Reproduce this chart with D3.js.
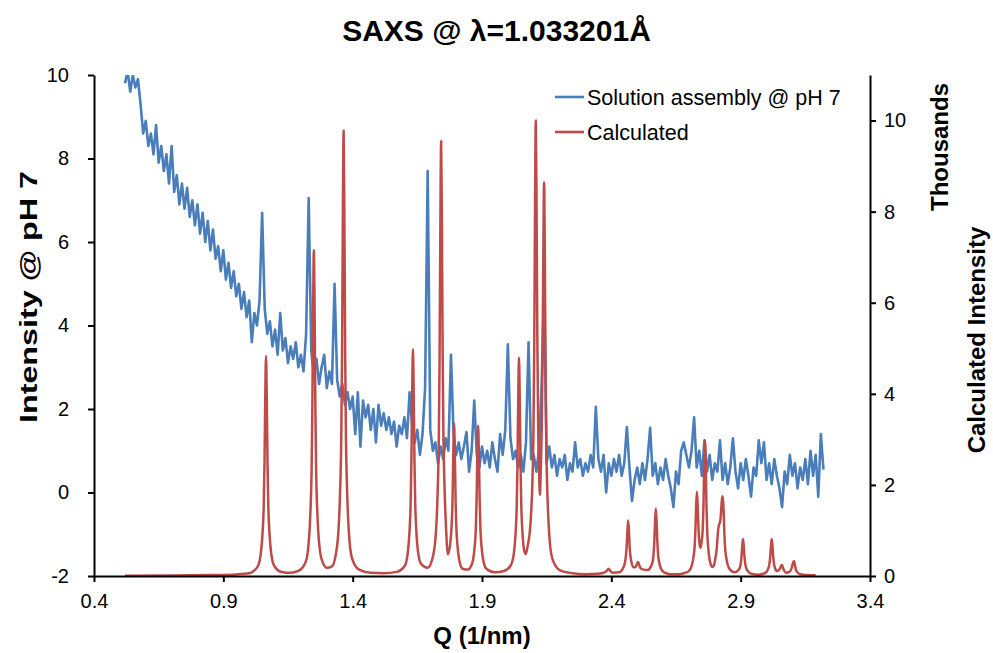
<!DOCTYPE html>
<html>
<head>
<meta charset="utf-8">
<script src="https://cdn.jsdelivr.net/npm/d3@7"></script>
<style>
  body { margin: 0; background: #fff; }
  svg { font-family: "Liberation Sans", Arial, sans-serif; }
</style>
</head>
<body>
<div id="chart"></div>
<script>
// Q axis ticks and y ticks
const qTicks = [0.4, 0.9, 1.4, 1.9, 2.4, 2.9, 3.4];
const leftTicks = [-2, 0, 2, 4, 6, 8, 10];
const rightTicks = [0, 2000, 4000, 6000, 8000, 10000];

// measured SAXS, sampled every 0.01 1/nm starting at q = 0.52
const measuredStart = 0.52;
const measuredStep = 0.01;
const measuredValues = [
  9.8, 10.1, 9.6, 10.0, 9.7, 9.9, 9.3, 8.6, 8.9, 8.3,
  8.6, 8.1, 8.8, 7.9, 8.3, 7.7, 8.1, 7.4, 8.3, 7.2,
  7.6, 6.9, 7.4, 6.8, 7.3, 6.6, 7.0, 6.4, 6.9, 6.2,
  6.7, 6.0, 6.5, 5.8, 6.3, 5.6, 5.9, 5.3, 5.8, 5.1,
  5.5, 4.9, 5.3, 4.7, 5.0, 4.4, 4.8, 4.2, 4.6, 3.6,
  4.3, 4.0, 4.6, 6.7, 4.4, 3.8, 4.1, 3.5, 3.9, 3.3,
  4.3, 3.4, 3.7, 3.1, 3.5, 3.2, 3.6, 3.0, 3.3, 2.9,
  3.8, 7.05, 3.4, 2.8, 3.2, 2.6, 3.0, 3.3, 2.5, 2.9,
  2.6, 5.0, 2.7, 2.3, 2.6, 2.1, 2.4, 2.0, 2.3, 1.4,
  2.4, 1.1, 2.2, 1.8, 2.1, 1.5, 2.0, 1.2, 2.1, 1.6,
  1.9, 1.5, 1.8, 1.4, 1.7, 1.1, 1.6, 1.4, 1.8, 1.3,
  2.4, 1.6, 1.2, 1.5, 0.9, 1.4, 2.5, 7.7, 1.5, 1.0,
  1.2, 0.7, 1.1, 0.8, 1.3, 1.0, 3.3, 1.4, 0.9, 1.2,
  0.8, 1.1, 1.45, 0.5, 1.0, 2.2, 0.9, 0.6, 1.1, 0.7,
  1.0, 0.6, 1.2, 0.8, 0.5, 1.4, 0.9, 1.5, 3.55, 1.3,
  0.8, 1.0, 0.6, 0.9, 0.5, 1.2, 3.6, 0.8, 0.9, 0.5,
  1.0, 2.5, 4.8, 0.7, 1.1, 0.6, 0.9, 0.4, 0.8, 0.6,
  0.9, 0.3, 0.7, 0.5, 1.2, 0.6, 0.8, 0.4, 0.7, 0.5,
  0.9, 0.6, 2.05, 0.8, 0.5, 0.9, 0.0, 0.7, 0.4, 0.8,
  0.5, 0.9, 0.4, 0.7, 1.57, 0.6, -0.2, 0.3, 0.6, 0.2,
  0.7, 0.3, 0.8, 1.55, 0.4, 0.7, 0.2, 0.6, 0.3, 0.8,
  0.4, 0.1, -0.35, 0.5, 0.2, 1.0, 1.2, 0.9, 0.6, 1.0,
  1.8, 0.6, 1.0, 0.4, 1.25, 0.5, 0.9, 0.3, 0.7, 0.5,
  1.25, 0.3, 0.7, 0.2, 0.6, 1.3, 0.5, 0.1, 0.7, 0.3,
  0.8, 0.4, -0.1, 0.6, 0.4, 1.25, 0.7, 1.2, 0.3, 0.7,
  0.2, 0.8, 0.4, 0.1, -0.35, 0.5, 0.2, 0.9, 0.4, 0.7,
  0.1, 0.6, 0.3, 0.8, 0.2, 1.0, 0.4, 0.9, -0.1, 1.4,
  0.55
];

// calculated pattern, [q, intensity]
const calcPoints = [
  [0.52, 5], [0.70, 10], [0.85, 20], [0.95, 35], [1.00, 60], [1.033, 210],
  [1.045, 500], [1.052, 980], [1.056, 1510], [1.059, 2420], [1.062, 3870], [1.065, 4830],
  [1.068, 3870], [1.071, 2420], [1.074, 1510], [1.078, 980], [1.085, 500], [1.097, 220],
  [1.125, 90], [1.16, 70], [1.19, 110], [1.218, 300], [1.23, 730], [1.237, 1450],
  [1.241, 2240], [1.244, 3600], [1.247, 5730], [1.25, 7150], [1.253, 5730], [1.256, 3600],
  [1.259, 2240], [1.263, 1450], [1.27, 740], [1.282, 330], [1.30, 180], [1.32, 210],
  [1.333, 420], [1.345, 990], [1.352, 1970], [1.356, 3040], [1.359, 4900], [1.362, 7830],
  [1.365, 9780], [1.368, 7830], [1.371, 4900], [1.374, 3040], [1.378, 1970], [1.385, 990],
  [1.397, 400], [1.425, 140], [1.47, 70], [1.52, 60], [1.57, 90], [1.601, 220],
  [1.613, 510], [1.62, 1000], [1.624, 1560], [1.627, 2500], [1.63, 3990], [1.633, 4980],
  [1.636, 3990], [1.639, 2500], [1.642, 1560], [1.646, 1010], [1.653, 520], [1.665, 260],
  [1.69, 180], [1.71, 420], [1.722, 970], [1.729, 1930], [1.733, 2980], [1.736, 4800],
  [1.739, 7660], [1.742, 9550], [1.745, 7680], [1.748, 4830], [1.751, 3020], [1.755, 1990],
  [1.761, 1050], [1.768, 480], [1.777, 700], [1.782, 1050], [1.786, 1650], [1.789, 2680],
  [1.792, 3350], [1.795, 2680], [1.798, 1650], [1.801, 1050], [1.805, 680], [1.812, 350],
  [1.825, 160], [1.845, 140], [1.853, 170], [1.865, 340], [1.872, 660], [1.876, 1020],
  [1.879, 1650], [1.882, 2640], [1.885, 3300], [1.888, 2640], [1.891, 1650], [1.894, 1020],
  [1.898, 660], [1.905, 340], [1.917, 160], [1.95, 80], [1.985, 110], [2.011, 230],
  [2.023, 490], [2.03, 960], [2.034, 1490], [2.037, 2400], [2.04, 3840], [2.043, 4800],
  [2.046, 3850], [2.049, 2420], [2.052, 1520], [2.056, 1000], [2.062, 600], [2.069, 480],
  [2.076, 640], [2.088, 1200], [2.095, 2100], [2.099, 3200], [2.102, 5100], [2.105, 8050],
  [2.108, 10000], [2.111, 8100], [2.114, 5200], [2.117, 3400], [2.121, 2200], [2.124, 1780],
  [2.127, 2300], [2.131, 3300], [2.134, 4800], [2.137, 7000], [2.14, 8640], [2.143, 6950],
  [2.146, 4400], [2.149, 2750], [2.153, 1780], [2.16, 900], [2.172, 380], [2.20, 130],
  [2.25, 60], [2.30, 40], [2.35, 50], [2.375, 80], [2.385, 130], [2.39, 160],
  [2.395, 120], [2.405, 70], [2.43, 80], [2.441, 130], [2.452, 280], [2.456, 430],
  [2.459, 620], [2.462, 980], [2.465, 1220], [2.468, 980], [2.471, 620], [2.474, 430],
  [2.478, 300], [2.485, 190], [2.494, 200], [2.50, 280], [2.503, 310], [2.506, 270],
  [2.512, 180], [2.525, 140], [2.54, 130], [2.552, 200], [2.559, 300], [2.563, 460],
  [2.566, 740], [2.569, 1180], [2.572, 1480], [2.575, 1180], [2.578, 740], [2.581, 460],
  [2.585, 300], [2.592, 160], [2.604, 80], [2.63, 40], [2.66, 40], [2.69, 80],
  [2.70, 110], [2.711, 230], [2.718, 430], [2.722, 640], [2.725, 1000], [2.728, 1560],
  [2.731, 1850], [2.734, 1500], [2.737, 1050], [2.741, 700], [2.745, 620], [2.749, 750],
  [2.753, 1000], [2.756, 1500], [2.759, 2400], [2.762, 2970], [2.765, 2400], [2.768, 1500],
  [2.771, 930], [2.775, 600], [2.782, 300], [2.79, 200], [2.797, 240], [2.803, 420],
  [2.807, 570], [2.81, 800], [2.813, 1020], [2.816, 1120], [2.819, 1160], [2.822, 1250],
  [2.825, 1480], [2.828, 1700], [2.831, 1750], [2.834, 1450], [2.837, 920], [2.84, 600],
  [2.845, 380], [2.852, 210], [2.864, 110], [2.877, 80], [2.889, 120], [2.896, 170],
  [2.90, 260], [2.903, 410], [2.906, 650], [2.909, 810], [2.912, 650], [2.915, 410],
  [2.918, 260], [2.922, 170], [2.929, 100], [2.941, 50], [2.97, 30], [2.988, 50],
  [3.00, 90], [3.007, 170], [3.011, 260], [3.014, 410], [3.017, 650], [3.02, 810],
  [3.023, 650], [3.026, 410], [3.029, 260], [3.033, 170], [3.04, 110], [3.05, 150],
  [3.054, 190], [3.057, 230], [3.06, 240], [3.063, 190], [3.067, 130], [3.075, 70],
  [3.09, 100], [3.097, 170], [3.10, 240], [3.103, 300], [3.106, 330], [3.109, 270],
  [3.112, 170], [3.118, 90], [3.13, 40], [3.16, 20], [3.19, 15]
];

const seriesNames = ["Solution assembly @ pH 7", "Calculated"];
const seriesColors = ["#4A7EBB", "#BE4B48"];

const width = 993;
const height = 653;
const plotLeft = 94;
const plotRight = 870;
const plotTop = 75;
const plotBottom = 576;
const tickFont = 20;
const titleFont = 24;

const measured = measuredValues.map((v, i) => [measuredStart + i * measuredStep, v]);

const svg = d3.select("#chart").append("svg")
    .attr("width", width)
    .attr("height", height);

svg.append("rect")
    .attr("width", width)
    .attr("height", height)
    .attr("fill", "#fff");

const x = d3.scaleLinear()
    .domain([0.4, 3.4])
    .range([plotLeft, plotRight]);

const yLeft = d3.scaleLinear()
    .domain([-2, 10])
    .range([plotBottom, plotTop]);

const yRight = d3.scaleLinear()
    .domain([0, 11000])
    .range([plotBottom, plotTop]);

svg.append("clipPath")
    .attr("id", "plotClip")
    .append("rect")
    .attr("x", plotLeft)
    .attr("y", plotTop)
    .attr("width", plotRight - plotLeft)
    .attr("height", plotBottom - plotTop + 3);

// lines
svg.append("path")
    .datum(measured)
    .attr("clip-path", "url(#plotClip)")
    .attr("fill", "none")
    .attr("stroke", seriesColors[0])
    .attr("stroke-width", 2.6)
    .attr("stroke-linejoin", "round")
    .attr("d", d3.line().x(d => x(d[0])).y(d => yLeft(d[1])));

svg.append("path")
    .datum(calcPoints)
    .attr("clip-path", "url(#plotClip)")
    .attr("fill", "none")
    .attr("stroke", seriesColors[1])
    .attr("stroke-width", 2.5)
    .attr("stroke-linejoin", "round")
    .attr("d", d3.line().curve(d3.curveMonotoneX).x(d => x(d[0])).y(d => yRight(d[1])));

// axes
function styleAxis(g) {
    g.attr("font-size", tickFont)
        .attr("font-family", "Liberation Sans, Arial, sans-serif");
    g.select(".domain").attr("stroke", "#000").attr("stroke-width", 2);
    g.selectAll(".tick line").attr("stroke", "#000").attr("stroke-width", 2);
    g.selectAll(".tick text").attr("fill", "#000");
}

svg.append("g")
    .attr("class", "xAxis")
    .attr("transform", `translate(0,${plotBottom})`)
    .call(d3.axisBottom(x).tickValues(qTicks).tickFormat(d3.format(".1f"))
        .tickSize(6).tickSizeOuter(0).tickPadding(12))
    .call(styleAxis);

svg.append("g")
    .attr("class", "yAxisLeft")
    .attr("transform", `translate(${plotLeft},0)`)
    .call(d3.axisLeft(yLeft).tickValues(leftTicks).tickFormat(d => String(d))
        .tickSize(6).tickSizeOuter(0).tickPadding(19))
    .call(styleAxis);

svg.append("g")
    .attr("class", "yAxisRight")
    .attr("transform", `translate(${plotRight},0)`)
    .call(d3.axisRight(yRight).tickValues(rightTicks).tickFormat(d => String(d / 1000))
        .tickSize(6).tickSizeOuter(0).tickPadding(8))
    .call(styleAxis);

// titles
svg.append("text")
    .attr("x", width / 2)
    .attr("y", 41)
    .text("SAXS @ λ=1.033201Å")
    .style("font-size", "30px")
    .style("font-weight", "bold")
    .style("text-anchor", "middle");

svg.append("text")
    .attr("x", (plotLeft + plotRight) / 2)
    .attr("y", 644)
    .text("Q (1/nm)")
    .style("font-size", titleFont + "px")
    .style("font-weight", "bold")
    .style("text-anchor", "middle");

svg.append("text")
    .attr("transform", "translate(29,297) rotate(-90)")
    .attr("dy", "0.35em")
    .attr("textLength", 252)
    .attr("lengthAdjust", "spacingAndGlyphs")
    .text("Intensity @ pH 7")
    .style("font-size", titleFont + "px")
    .style("font-weight", "bold")
    .style("text-anchor", "middle");

svg.append("text")
    .attr("transform", "translate(940,147) rotate(-90)")
    .attr("dy", "0.35em")
    .text("Thousands")
    .style("font-size", titleFont + "px")
    .style("font-weight", "bold")
    .style("text-anchor", "middle");

svg.append("text")
    .attr("transform", "translate(977,340) rotate(-90)")
    .attr("dy", "0.35em")
    .text("Calculated Intensity")
    .style("font-size", titleFont + "px")
    .style("font-weight", "bold")
    .style("text-anchor", "middle");

// legend
const legend = svg.append("g")
    .attr("class", "legend")
    .attr("transform", "translate(555,97)");

seriesNames.forEach((name, i) => {
    const row = legend.append("g").attr("transform", `translate(0,${i * 35})`);
    row.append("line")
        .attr("x1", 0).attr("x2", 29)
        .attr("stroke", seriesColors[i])
        .attr("stroke-width", 2.6);
    row.append("text")
        .attr("x", 32)
        .attr("dy", "0.35em")
        .text(name)
        .style("font-size", "21.5px");
});
</script>
</body>
</html>
